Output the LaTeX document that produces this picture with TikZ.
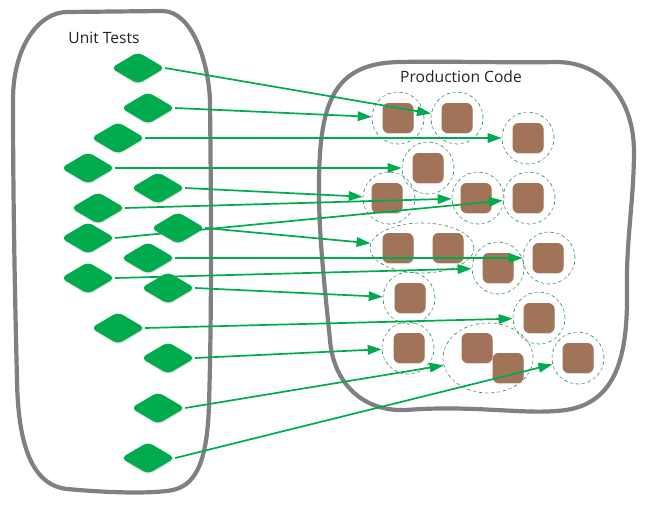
\documentclass[tikz,border=0pt]{standalone}
\usepackage{fontspec}
\setmainfont{Open Sans}
\usetikzlibrary{shapes.geometric,arrows.meta,shadows}
\definecolor{tgreen}{RGB}{0,171,78}
\definecolor{pbrown}{RGB}{161,116,89}
\definecolor{blobgray}{RGB}{128,128,132}
\definecolor{dashgreen}{RGB}{30,160,85}
\definecolor{dashgray}{RGB}{150,158,154}
\definecolor{txt}{RGB}{35,35,35}
\pgfdeclarelayer{bg}
\pgfsetlayers{bg,main}
\begin{document}
\begin{tikzpicture}[x=1pt,y=-1pt,
  testnode/.style={diamond, fill=tgreen, minimum width=54pt, minimum height=32pt,
    inner sep=0pt, rounded corners=5pt,
    drop shadow={shadow xshift=0.4pt, shadow yshift=-1.5pt, opacity=0.22}},
  unitbox/.style={rectangle, minimum width=31pt, minimum height=30pt, inner sep=0pt,
    fill=pbrown, rounded corners=6pt,
    drop shadow={shadow xshift=0.4pt, shadow yshift=-1.2pt, opacity=0.2}},
  ringbase/.style={inner sep=0pt, draw=dashgreen, line width=0.7pt,
    dash pattern=on 3.5pt off 8.5pt,
    postaction={draw=dashgray, dash pattern=on 3.5pt off 8.5pt, dash phase=6pt}},
  ring/.style={ringbase, circle, minimum size=52pt},
  ringwide/.style={ringbase, ellipse, minimum width=#1},
  blob/.style={draw=blobgray, line width=4.2pt, line join=round},
  call/.style={draw=tgreen, line width=1.7pt, -{Triangle[length=14pt,width=9.5pt]}},
  label/.style={font=\fontsize{15.6}{18}\selectfont, text=txt, inner sep=0pt}
]
\useasboundingbox (0,0) rectangle (646,506);

% test diamonds
\node[testnode] (d1)  at (138,68)  {};
\node[testnode] (d2)  at (148,108) {};
\node[testnode] (d3)  at (118,138) {};
\node[testnode] (d4)  at (88,168)  {};
\node[testnode] (d5)  at (158,188) {};
\node[testnode] (d6)  at (98,208)  {};
\node[testnode] (d7)  at (178,228) {};
\node[testnode] (d8)  at (88,238)  {};
\node[testnode] (d9)  at (148,258) {};
\node[testnode] (d10) at (88,278)  {};
\node[testnode] (d11) at (168,288) {};
\node[testnode] (d12) at (118,328) {};
\node[testnode] (d13) at (168,358) {};
\node[testnode] (d14) at (158,408) {};
\node[testnode] (d15) at (148,458) {};

\begin{pgfonlayer}{bg}
% Unit Tests boundary
\draw[blob] (67,12) -- (163,11)
  .. controls (192,12) and (208,60) .. (210,100)
  .. controls (211,200) and (212,300) .. (209,405)
  .. controls (207,465) and (195,488) .. (167,491)
  .. controls (140,494) and (100,492) .. (67,489)
  .. controls (30,485) and (18,440) .. (17,380)
  .. controls (15,300) and (13,200) .. (13,100)
  .. controls (13,45) and (40,12) .. (67,12) -- cycle;
% Production Code boundary
\draw[blob] (400,62)
  .. controls (450,61) and (510,63) .. (556,62)
  .. controls (600,62) and (633,95) .. (634,150)
  .. controls (634,200) and (626,240) .. (627,290)
  .. controls (628,360) and (615,408) .. (556,411)
  .. controls (520,414) and (470,405) .. (406,410)
  .. controls (360,412) and (333,380) .. (330,340)
  .. controls (325,290) and (318,230) .. (319,180)
  .. controls (320,100) and (335,63) .. (400,62) -- cycle;

\node[label] (ut) at (104,38) {Unit Tests};
\node[label] (pc) at (461,77) {Production Code};

% dashed rings
\node[ring] (c1)  at (398,118) {};
\node[ring] (c2)  at (457,118) {};
\node[ring] (c3)  at (528,138) {};
\node[ring] (c4)  at (428,168) {};
\node[ring] (c5)  at (389,198) {};
\node[ring] (c6)  at (478,198) {};
\node[ring] (c7)  at (529,198) {};
\node[ringwide=104pt, minimum height=50pt] (e89) at (422,248) {};
\node[ring] (c10) at (498,268) {};
\node[ring] (c11) at (549,258) {};
\node[ring] (c12) at (409,298) {};
\node[ring] (c13) at (539,318) {};
\node[ring] (c14) at (408,348) {};
\node[ringwide=90pt, minimum height=70pt] (e1516) at (488,358) {};
\node[ring] (c17) at (578,358) {};

% production units
\node[unitbox] (s1)  at (398,118) {};
\node[unitbox] (s2)  at (457,118) {};
\node[unitbox] (s3)  at (528,138) {};
\node[unitbox] (s4)  at (428,168) {};
\node[unitbox] (s5)  at (387,198) {};
\node[unitbox] (s6)  at (476,198) {};
\node[unitbox] (s7)  at (528,198) {};
\node[unitbox] (s8)  at (398,248) {};
\node[unitbox] (s9)  at (448,248) {};
\node[unitbox] (s10) at (498,268) {};
\node[unitbox] (s11) at (548,258) {};
\node[unitbox] (s12) at (410,298) {};
\node[unitbox] (s13) at (539,318) {};
\node[unitbox] (s14) at (409,348) {};
\node[unitbox] (s15) at (477,348) {};
\node[unitbox] (s16) at (508,368) {};
\node[unitbox] (s17) at (578,358) {};

% test-to-code connectors
\draw[call] (d1.east)  -- (c2);
\draw[call] (d2.east)  -- (c1);
\draw[call] (d3.east)  -- (c3);
\draw[call] (d4.east)  -- (c4);
\draw[call] (d5.east)  -- (c5);
\draw[call] (d6.east)  -- (c6);
\draw[call] (d7.east)  -- (e89);
\draw[call] (d8.east)  -- (c7);
\draw[call] (d9.east)  -- (c11);
\draw[call] (d10.east) -- (c10);
\draw[call] (d11.east) -- (c12);
\draw[call] (d12.east) -- (c13);
\draw[call] (d13.east) -- (c14);
\draw[call] (d14.east) -- (e1516);
\draw[call] (d15.east) -- (c17);
\end{pgfonlayer}
\end{tikzpicture}
\end{document}
